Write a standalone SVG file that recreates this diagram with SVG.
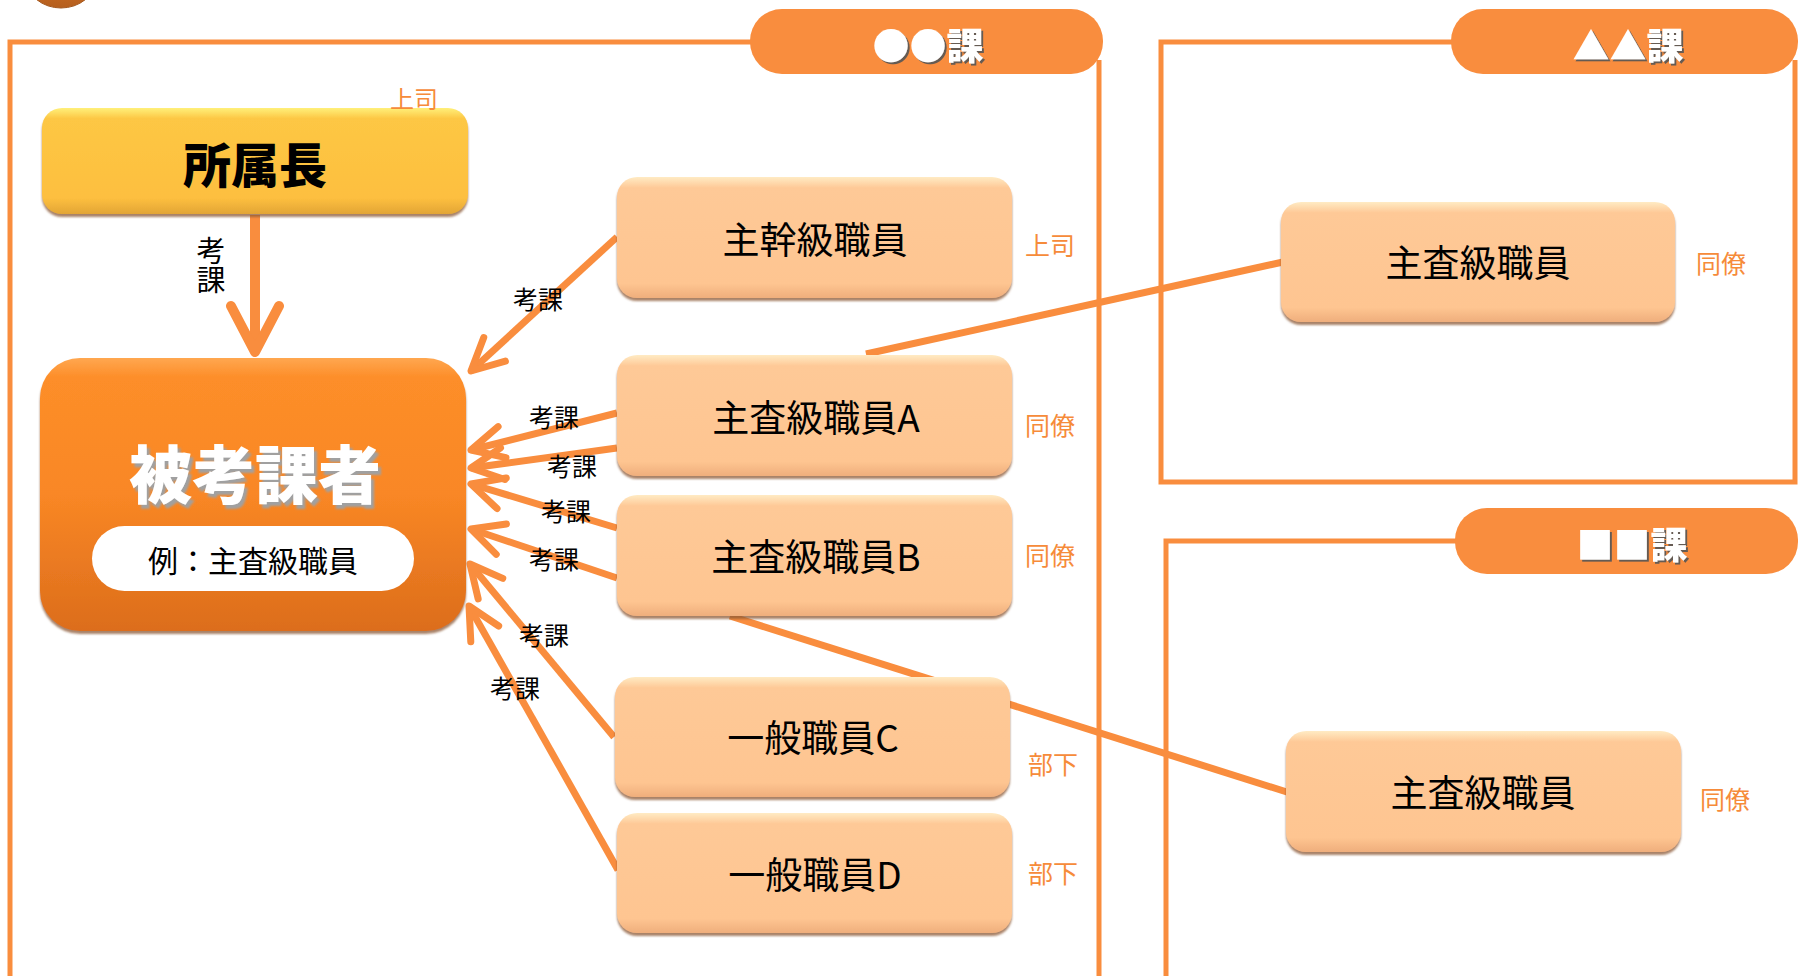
<svg xmlns="http://www.w3.org/2000/svg" width="1798" height="976" viewBox="0 0 1798 976">
<style>
.frame{fill:none;stroke:#F98D3E;stroke-width:5}
.tab{fill:#F98D3E}
.conn{fill:none;stroke:#F98D3E;stroke-width:7;stroke-linecap:butt}
.arrow{fill:none;stroke:#F98D3E;stroke-width:7;marker-end:url(#ah)}
.arrowBig{fill:none;stroke:#F98D3E;stroke-width:10;marker-end:url(#ahBig)}
.peach{fill:url(#gPeach);filter:url(#shNode)}
text{font-family:"Noto Sans CJK JP","Noto Sans CJK SC",sans-serif}
.node{font-size:37px;fill:#000;text-anchor:middle;dominant-baseline:central}
.rel{font-size:25px;fill:#F68B3A;text-anchor:middle;dominant-baseline:central}
.lbl{font-size:25px;fill:#000;text-anchor:middle;dominant-baseline:central}
.head{font-size:37px;font-weight:900;fill:#fff;text-anchor:middle;dominant-baseline:central;filter:url(#shHead)}
</style>
<defs>
<linearGradient id="gPeach" x1="0" y1="0" x2="0" y2="1">
<stop offset="0" stop-color="#FFEBC4"/>
<stop offset="0.09" stop-color="#FEC997"/>
<stop offset="0.88" stop-color="#FEC591"/>
<stop offset="1" stop-color="#EFAE7C"/>
</linearGradient>
<linearGradient id="gGold" x1="0" y1="0" x2="0" y2="1">
<stop offset="0" stop-color="#FFF07A"/>
<stop offset="0.1" stop-color="#FDC744"/>
<stop offset="0.85" stop-color="#FDBF3F"/>
<stop offset="1" stop-color="#E2A536"/>
</linearGradient>
<linearGradient id="gOrange" x1="0" y1="0" x2="0" y2="1">
<stop offset="0" stop-color="#FFA750"/>
<stop offset="0.07" stop-color="#FD8E29"/>
<stop offset="0.5" stop-color="#F98725"/>
<stop offset="1" stop-color="#DC6D1C"/>
</linearGradient>
<linearGradient id="gDark" x1="0" y1="0" x2="0" y2="1">
<stop offset="0" stop-color="#E57C26"/>
<stop offset="1" stop-color="#B55F1E"/>
</linearGradient>
<filter id="shNode" x="-5%" y="-10%" width="110%" height="125%">
<feDropShadow dx="0" dy="3" stdDeviation="1" flood-color="#8C5A35" flood-opacity="0.75"/>
</filter>
<filter id="shHead" x="-10%" y="-20%" width="120%" height="140%">
<feDropShadow dx="2" dy="2" stdDeviation="0.6" flood-color="#555" flood-opacity="0.9"/>
</filter>
<filter id="shBig" x="-10%" y="-20%" width="120%" height="140%">
<feDropShadow dx="3" dy="4" stdDeviation="0.8" flood-color="#A0A0A0" flood-opacity="1"/>
</filter>
<marker id="ah" markerUnits="userSpaceOnUse" viewBox="0 0 60 60" markerWidth="60" markerHeight="60" refX="50" refY="30" orient="auto" overflow="visible">
<path d="M18 14 L50 30 L18 46" fill="none" stroke="#F98D3E" stroke-width="7" stroke-linecap="round" stroke-linejoin="round"/>
</marker>
<marker id="ahBig" markerUnits="userSpaceOnUse" viewBox="0 0 60 60" markerWidth="60" markerHeight="60" refX="50" refY="30" orient="auto" overflow="visible">
<path d="M4 6 L50 30 L4 54" fill="none" stroke="#F98D3E" stroke-width="10" stroke-linecap="round" stroke-linejoin="round"/>
</marker>
</defs>
<rect width="1798" height="976" fill="#fff"/>

<g id="corner-shape">
<ellipse cx="61" cy="-20" rx="34" ry="28" fill="url(#gDark)" stroke="#A3561C" stroke-width="1"/>
</g>

<g id="section-maru">
<path class="frame" d="M10 980 L10 42 L760 42"/>
<path class="frame" d="M1099 60 L1099 980"/>
<rect class="tab" x="750" y="9" width="353" height="65" rx="32"/>
<text class="head" x="928" y="44">●●課</text>
</g>

<g id="section-sankaku">
<path class="frame" d="M1461 42 L1161 42 L1161 482 L1795 482 L1795 60"/>
<rect class="tab" x="1451" y="9" width="347" height="65" rx="32"/>
<text class="head" x="1628" y="44">▲▲課</text>
</g>

<g id="section-shikaku">
<path class="frame" d="M1465 541 L1166 541 L1166 980"/>
<rect class="tab" x="1455" y="508" width="343" height="66" rx="32"/>
<text class="head" x="1632" y="543">■■課</text>
</g>

<g id="connectors">
<line class="conn" x1="866" y1="354" x2="1283" y2="262"/>
<line class="conn" x1="730" y1="616" x2="1290" y2="793"/>
<line class="arrowBig" x1="255" y1="215" x2="255" y2="352"/>
<line class="arrow" x1="617" y1="237" x2="471" y2="371"/>
<line class="arrow" x1="617" y1="413" x2="471" y2="450"/>
<line class="arrow" x1="617" y1="448" x2="471" y2="468"/>
<line class="arrow" x1="617" y1="528" x2="471" y2="484"/>
<line class="arrow" x1="617" y1="578" x2="471" y2="529"/>
<line class="arrow" x1="614" y1="737" x2="470" y2="564"/>
<line class="arrow" x1="618" y1="870" x2="469" y2="606"/>
<text class="lbl" x="538" y="298">考課</text>
<text class="lbl" x="554" y="416">考課</text>
<text class="lbl" x="572" y="465">考課</text>
<text class="lbl" x="566" y="510">考課</text>
<text class="lbl" x="554" y="558">考課</text>
<text class="lbl" x="544" y="634">考課</text>
<text class="lbl" x="515" y="687">考課</text>
<text x="211" y="236" style="font-size:29px;fill:#000;writing-mode:vertical-rl;text-anchor:start">考課</text>
</g>

<g id="node-shozokucho">
<rect x="42" y="108" width="426" height="106" rx="20" fill="url(#gGold)" filter="url(#shNode)"/>
<text x="255" y="162" style="font-size:48px;font-weight:900;text-anchor:middle;dominant-baseline:central;fill:#000">所属長</text>
<text class="rel" x="414" y="97" style="font-size:24px">上司</text>
</g>

<g id="node-hikoukasha">
<rect x="40" y="358" width="426" height="273" rx="40" fill="url(#gOrange)" filter="url(#shNode)"/>
<text x="255" y="470" style="font-size:63px;font-weight:900;fill:#fff;text-anchor:middle;dominant-baseline:central" filter="url(#shBig)">被考課者</text>
<rect x="92" y="526" width="322" height="65" rx="32.5" fill="#fff"/>
<text x="253" y="559" style="font-size:30px;fill:#000;text-anchor:middle;dominant-baseline:central">例：主査級職員</text>
</g>

<g id="node-shukan">
<rect class="peach" x="617" y="177" width="395" height="121" rx="20"/>
<text class="node" x="815" y="238">主幹級職員</text>
<text class="rel" x="1050" y="244">上司</text>
</g>

<g id="node-shusaA">
<rect class="peach" x="617" y="355" width="395" height="121" rx="20"/>
<text class="node" x="816" y="416">主査級職員A</text>
<text class="rel" x="1050" y="424">同僚</text>
</g>

<g id="node-shusaB">
<rect class="peach" x="617" y="495" width="395" height="121" rx="20"/>
<text class="node" x="816" y="555">主査級職員B</text>
<text class="rel" x="1050" y="554">同僚</text>
</g>

<g id="node-ippanC">
<rect class="peach" x="615" y="677" width="395" height="120" rx="20"/>
<text class="node" x="813" y="736">一般職員C</text>
<text class="rel" x="1053" y="763">部下</text>
</g>

<g id="node-ippanD">
<rect class="peach" x="617" y="813" width="395" height="120" rx="20"/>
<text class="node" x="815" y="873">一般職員D</text>
<text class="rel" x="1053" y="872">部下</text>
</g>

<g id="node-sankaku-shusa">
<rect class="peach" x="1281" y="202" width="394" height="120" rx="20"/>
<text class="node" x="1478" y="261">主査級職員</text>
<text class="rel" x="1721" y="262">同僚</text>
</g>

<g id="node-shikaku-shusa">
<rect class="peach" x="1286" y="731" width="395" height="121" rx="20"/>
<text class="node" x="1483" y="791">主査級職員</text>
<text class="rel" x="1725" y="798">同僚</text>
</g>
</svg>
